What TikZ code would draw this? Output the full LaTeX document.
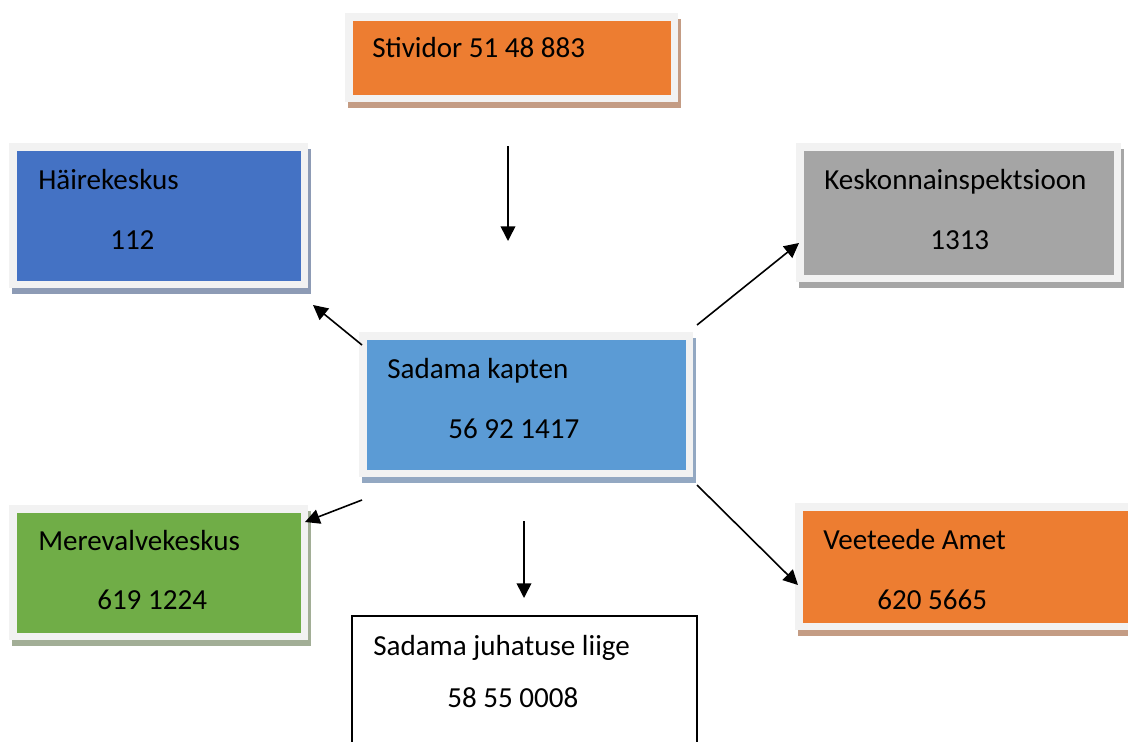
\documentclass[tikz,border=0pt]{standalone}
\usepackage{fontspec}
\setmainfont{Carlito}
\usetikzlibrary{arrows.meta,fit}
\definecolor{framegray}{HTML}{F2F2F2}
\definecolor{orangeA}{HTML}{ED7D31}
\definecolor{blueA}{HTML}{4472C4}
\definecolor{blueB}{HTML}{5B9BD5}
\definecolor{grayA}{HTML}{A5A5A5}
\definecolor{greenA}{HTML}{70AD47}
\definecolor{shOrange}{HTML}{C49C84}
\definecolor{shBlue}{HTML}{8D9BB5}
\definecolor{shLight}{HTML}{93A8C2}
\definecolor{shGray}{HTML}{A6A6A6}
\definecolor{shGreen}{HTML}{A2AE96}
\newcommand\mybox[7]{%
  \fill[#7] (#2+3,#3+6) rectangle (#4+3,#5+6);
  \node[frame, fit={(#2,#3)(#4,#5)}] (#1) {};
  \node[inner, fill=#6, fit={(#2+8,#3+8)(#4-7,#5-7)}] (#1in) {};
}
\begin{document}
\begin{tikzpicture}[x=0.75pt,y=-0.75pt,
  frame/.style={fill=framegray, draw=none, inner sep=0pt},
  inner/.style={inner sep=0pt, draw=none},
  lbl/.style={anchor=base west, inner sep=0pt, font=\fontsize{21.8}{26}\selectfont},
  conn/.style={line width=1.2pt, -{Triangle[length=11pt,width=11pt]}}]
\path[use as bounding box] (0,0) rectangle (1128,742);
\clip (0,0) rectangle (1128,742);

\mybox{stiv}{345}{13}{678}{102}{orangeA}{shOrange}
\mybox{haire}{9}{143}{308}{288}{blueA}{shBlue}
\mybox{kapten}{359}{332}{693}{477}{blueB}{shLight}
\mybox{kesk}{796}{143}{1121}{282}{grayA}{shGray}
\mybox{veet}{795}{503}{1140}{630}{orangeA}{shOrange}
\mybox{mere}{9}{505}{308}{640}{greenA}{shGreen}
\node[draw=black, line width=1pt, fill=white, inner sep=0pt, fit={(352,616)(697,760)}] (juh) {};

\node[lbl] (stivT) at (372,58) {Stividor 51 48 883};
\node[lbl] (haireT) at (38,189) {Häirekeskus};
\node[lbl] (haireN) at (110,249) {112};
\node[lbl] (kaptenT) at (387,378) {Sadama kapten};
\node[lbl] (kaptenN) at (448,438) {56 92 1417};
\node[lbl] (keskT) at (824,189) {Keskonnainspektsioon};
\node[lbl] (keskN) at (930,249) {1313};
\node[lbl] (veetT) at (823,549) {Veeteede Amet};
\node[lbl] (veetN) at (877,609) {620 5665};
\node[lbl] (mereT) at (38,550) {Merevalvekeskus};
\node[lbl] (mereN) at (97,609) {619 1224};
\node[lbl] (juhT) at (373,655) {Sadama juhatuse liige};
\node[lbl] (juhN) at (447,707) {58 55 0008};

\coordinate (a1s) at (508,146); \coordinate (a1e) at (508,241);
\coordinate (a2s) at (362,345); \coordinate (a2e) at (313,305);
\coordinate (a3s) at (697,325); \coordinate (a3e) at (799,243);
\coordinate (a4s) at (697,485); \coordinate (a4e) at (798,585);
\coordinate (a5s) at (524,521); \coordinate (a5e) at (524,598);
\coordinate (a6s) at (362,500); \coordinate (a6e) at (305,522);
\draw[conn] (a1s) -- (a1e);
\draw[conn] (a2s) -- (a2e);
\draw[conn] (a3s) -- (a3e);
\draw[conn] (a4s) -- (a4e);
\draw[conn] (a5s) -- (a5e);
\draw[conn] (a6s) -- (a6e);
\end{tikzpicture}
\end{document}
